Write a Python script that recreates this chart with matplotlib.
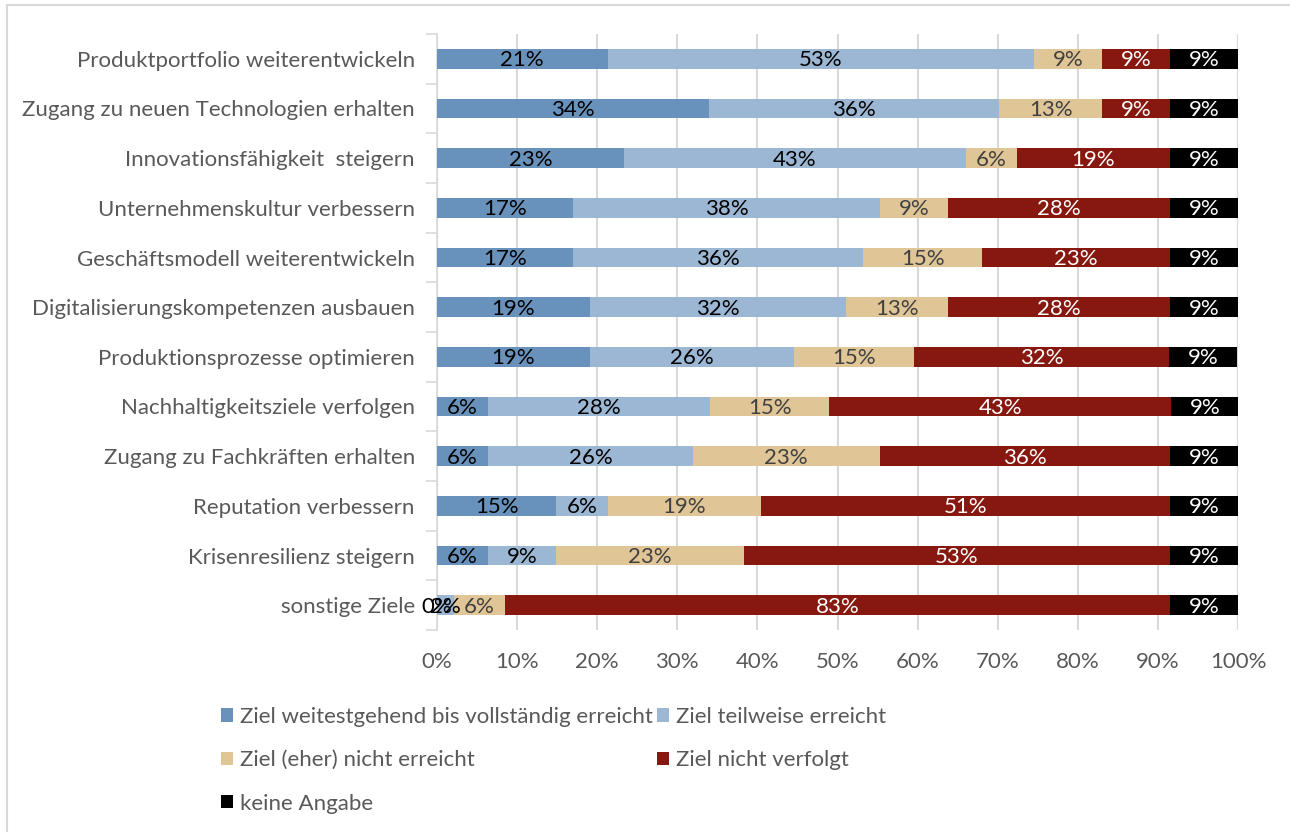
import matplotlib
matplotlib.use("Agg")
import matplotlib.pyplot as plt
from matplotlib.lines import Line2D
import numpy as np

plt.rcParams['font.family'] = ['Lato', 'DejaVu Sans']

# categories, top to bottom
categories = [
    'Produktportfolio weiterentwickeln',
    'Zugang zu neuen Technologien erhalten',
    'Innovationsfähigkeit  steigern',
    'Unternehmenskultur verbessern',
    'Geschäftsmodell weiterentwickeln',
    'Digitalisierungskompetenzen ausbauen',
    'Produktionsprozesse optimieren',
    'Nachhaltigkeitsziele verfolgen',
    'Zugang zu Fachkräften erhalten',
    'Reputation verbessern',
    'Krisenresilienz steigern',
    'sonstige Ziele',
]

series_names = [
    'Ziel weitestgehend bis vollständig erreicht',
    'Ziel teilweise erreicht',
    'Ziel (eher) nicht erreicht',
    'Ziel nicht verfolgt',
    'keine Angabe',
]

# shares in percent
erreicht = [21.3, 34.0, 23.4, 17.0, 17.0, 19.1, 19.1, 6.4, 6.4, 14.9, 6.4, 0.0]
teilweise = [53.2, 36.2, 42.6, 38.3, 36.2, 31.9, 25.5, 27.7, 25.5, 6.4, 8.5, 2.1]
eher_nicht = [8.5, 12.8, 6.4, 8.5, 14.9, 12.8, 14.9, 14.9, 23.4, 19.1, 23.4, 6.4]
nicht_verfolgt = [8.5, 8.5, 19.1, 27.7, 23.4, 27.7, 31.9, 42.6, 36.2, 51.1, 53.2, 83.0]
keine_angabe = [8.5, 8.5, 8.5, 8.5, 8.5, 8.5, 8.5, 8.5, 8.5, 8.5, 8.5, 8.5]

colors = ['#6892bb', '#9bb7d4', '#e0c597', '#87180f', '#000000']
label_colors = ['#000000', '#000000', '#404040', '#ffffff', '#ffffff']

data = [erreicht, teilweise, eher_nicht, nicht_verfolgt, keine_angabe]

fig = plt.figure(figsize=(12.9, 8.32), dpi=100)
ax = fig.add_axes([437 / 1290, 1 - 630 / 832, (1238 - 437) / 1290, (630 - 34) / 832])

y = np.arange(len(categories))
left = np.zeros(len(categories))
handles = []
for pcts, col, lcol, name in zip(data, colors, label_colors, series_names):
    vals = np.array(pcts) / 100.0
    bars = ax.barh(y, vals, left=left, height=0.4, color=col, edgecolor='none',
                   zorder=3, label=name)
    for yi, l, v, p in zip(y, left, vals, pcts):
        # round half up like Excel
        ax.text(l + v / 2, yi + 0.03, '%d%%' % int(p + 0.5), ha='center', va='center',
                color=lcol, fontsize=16, zorder=4)
    left = left + vals
    handles.append(bars)

ax.set_xlim(0, 1)
ax.set_ylim(len(categories) - 0.5, -0.5)
ax.set_xticks(np.arange(0, 1.01, 0.1))
ax.set_xticklabels(['%d%%' % (t * 10) for t in range(11)])
ax.set_yticks(y)
ax.set_yticklabels(categories)
ax.set_yticks(np.arange(-0.5, len(categories), 1), minor=True)

ax.grid(axis='x', color='#d9d9d9', linewidth=1.5, zorder=0)
for s in ['top', 'right', 'bottom']:
    ax.spines[s].set_visible(False)
ax.spines['left'].set_color('#d9d9d9')
ax.spines['left'].set_linewidth(1.2)

ax.tick_params(axis='x', length=0, labelsize=16, labelcolor='#595959', pad=16)
ax.tick_params(axis='y', which='major', length=0, labelsize=16,
               labelcolor='#595959', pad=16)
ax.tick_params(axis='y', which='minor', length=8, color='#d9d9d9', width=1.2)

# legend, row-wise order like the original
order = [0, 2, 4, 1, 3]
leg = fig.legend([handles[i] for i in order], [series_names[i] for i in order],
                 ncol=2, loc='upper left', bbox_to_anchor=(212 / 1290, 1 - 698 / 832),
                 frameon=False, fontsize=16, labelcolor='#595959',
                 handlelength=0.55, handleheight=0.55, handletextpad=0.3,
                 columnspacing=0.2, labelspacing=1.05, borderaxespad=0)

# outer chart frame
fig.add_artist(Line2D([7 / 1290, 7 / 1290], [0, 1 - 5 / 832], color='#d9d9d9', lw=1.5))
fig.add_artist(Line2D([7 / 1290, 1], [1 - 5 / 832, 1 - 5 / 832], color='#d9d9d9', lw=1.5))

fig.savefig('out.png', dpi=100)
